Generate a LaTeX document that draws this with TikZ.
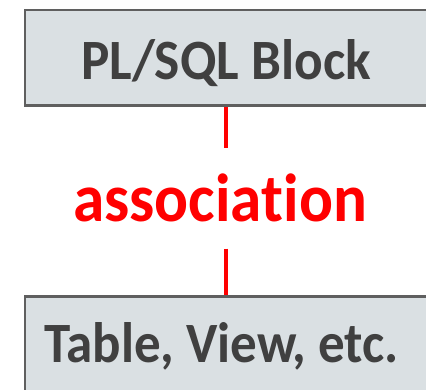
\documentclass[tikz,border=0pt]{standalone}
\usepackage{fontspec}
\setsansfont[Ligatures=CommonOff]{Carlito}
\usetikzlibrary{positioning,calc}
\definecolor{boxfill}{RGB}{218,224,227}
\definecolor{boxline}{RGB}{95,95,95}
\definecolor{textgray}{RGB}{64,64,64}
\definecolor{assocred}{RGB}{255,0,0}
\newcommand{\narrow}[2]{\scalebox{#1}[1]{#2}}
\tikzset{
  entitybox/.style={
    draw=boxline, line width=2.8pt, fill=boxfill,
    minimum width=420pt, minimum height=95.3pt,
    inner sep=0pt, anchor=north west
  },
  entitytext/.style={
    text=textgray, inner sep=0pt, anchor=base,
    font=\sffamily\bfseries\fontsize{57}{60}\selectfont
  },
  assocline/.style={draw=assocred, line width=4pt}
}
\begin{document}
\begin{tikzpicture}[x=1pt,y=-1pt]

\useasboundingbox (0,0) rectangle (426,390);
\clip (0,0) rectangle (426,390);

%--------------------------------------------------
% Top: PL/SQL block
%--------------------------------------------------
\node[entitybox] (plsql) at (23.5,8.7) {};
\node[entitytext] (plsqltext) at (226,80) {\narrow{0.935}{PL/SQL Block}};

%--------------------------------------------------
% Bottom: table, view
%--------------------------------------------------
\node[entitybox] (tbl) at (23.5,295) {};
\node[entitytext] (tbltext) at (221.5,362) {\narrow{0.93}{Table, View, etc.}};

%--------------------------------------------------
% Association between them
%--------------------------------------------------
\node[text=assocred, anchor=base, inner xsep=0pt, inner ysep=26pt,
      font=\sffamily\bfseries\fontsize{68}{70}\selectfont] (assoc) at (220,222) {\narrow{0.93}{association}};

\draw[assocline] (plsqltext |- plsql.south) -- (plsqltext |- assoc.north);
\draw[assocline] (plsqltext |- assoc.south) -- (plsqltext |- tbl.north);

\end{tikzpicture}
\end{document}
